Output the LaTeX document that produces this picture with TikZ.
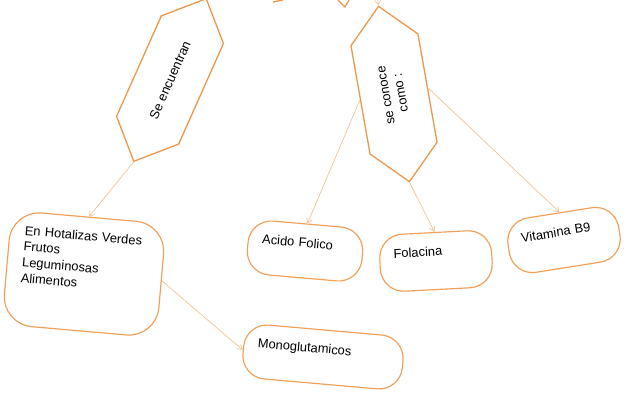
\documentclass[tikz,border=0pt]{standalone}
\usepackage{fontspec}
\setmainfont{Liberation Sans}
\usetikzlibrary{shapes.symbols,arrows.meta}
\definecolor{hexorange}{RGB}{238,150,75}
\definecolor{boxorange}{RGB}{240,160,90}
\definecolor{linkorange}{RGB}{242,196,150}

\begin{document}
\begin{tikzpicture}[x=0.03cm,y=-0.03cm,
    hexa/.style={shape=signal,signal to=east and west,signal pointer angle=90,draw=hexorange,line width=1.1pt,minimum width=5.34cm,minimum height=2.04cm,inner sep=0pt,align=center,font=\fontsize{11}{13}\selectfont},
    concept/.style={shape=rectangle,rounded corners=0.7cm,draw=boxorange,line width=1pt,inner xsep=0.42cm,inner ysep=0.42cm,text height=8pt,align=left,font=\fontsize{11}{13.5}\selectfont},
    link/.style={draw=linkorange,line width=0.6pt,-{Straight Barb[length=4pt,width=5pt]}}]
    \useasboundingbox (0,0) rectangle (627,402);

    \node[hexa,rotate=66] (encuentran) at (170,80) {Se encuentran};
    \node[hexa,rotate=100] (conoce) at (394,94) {se conoce\\como :};

    \node[concept,rotate=-5,rounded corners=0.9cm,inner xsep=0.45cm,text width=3.75cm,text depth=2.30cm] (hortalizas) at (84,274) {En Hotalizas Verdes\\Frutos\\Leguminosas\\Alimentos};
    \node[concept,rotate=-5,text width=2.61cm,text depth=0.50cm] (acido) at (305,251) {Acido Folico};
    \node[concept,rotate=3,text width=2.52cm,text depth=0.59cm] (folacina) at (436,261) {Folacina};
    \node[concept,rotate=9,text width=2.52cm,text depth=0.53cm] (vitamina) at (564,240) {Vitamina B9};
    \node[concept,rotate=-5,text width=3.96cm,text depth=0.50cm] (mono) at (323,357) {Monoglutamicos};

    \coordinate (arriba) at (376,-12);
    \draw[hexorange,line width=1.1pt] (338,0) -- (345,7) -- (349,0);
    \draw[hexorange,line width=1.1pt] (273,2) -- (283,0);

    \draw[link] (arriba) -- (conoce.east);
    \draw[link] (encuentran.west) -- (hortalizas.north);
    \draw[link] (conoce.north) -- (acido.north);
    \draw[link] (conoce.west) -- (folacina.north);
    \draw[link] (conoce.south) -- (vitamina.north);
    \draw[link] (hortalizas.east) -- (mono.west);
\end{tikzpicture}
\end{document}
